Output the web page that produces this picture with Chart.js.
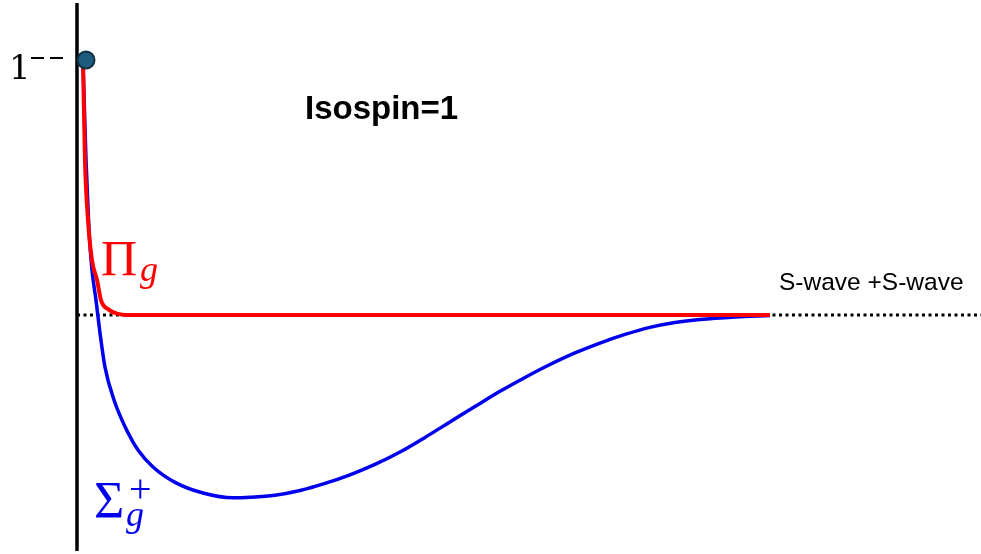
<!DOCTYPE html>
<html>
<head>
<meta charset="utf-8">
<script src="https://cdn.jsdelivr.net/npm/chart.js@4"></script>
<style>
  html, body { margin: 0; padding: 0; background: #fff; }
  #box { width: 981px; height: 554px; }
</style>
</head>
<body>
<div id="box"><canvas id="grafico" width="981" height="554"></canvas></div>
<script>
// === Dados (r em unidades arbitrarias, energia relativa ao limiar S-wave + S-wave) ===
const piX = [0.087, 0.115, 0.159, 0.216, 0.289, 0.346, 0.462, 0.592, 0.707, 1.5, 5, 10];
const piY = [1.0, 0.613, 0.375, 0.217, 0.138, 0.059, 0.02, 0.004, 0.0, 0.0, 0.0, 0.0];

const sigmaX = [0.087, 0.13, 0.173, 0.216, 0.274, 0.332, 0.404, 0.534, 0.736, 0.88, 1.097, 1.429, 1.818, 2.251,
  2.496, 2.857, 3.218, 3.579, 3.939, 4.3, 4.661, 5.022, 5.382, 5.743, 6.104, 6.465, 6.825, 7.186, 7.547, 7.908,
  8.268, 8.629, 8.99, 9.495, 10];
const sigmaY = [1.0, 0.613, 0.336, 0.178, 0.059, -0.071, -0.206, -0.336, -0.466, -0.534, -0.601, -0.664, -0.704, -0.723,
  -0.721, -0.713, -0.694, -0.666, -0.632, -0.591, -0.542, -0.484, -0.423, -0.362, -0.302, -0.247, -0.196, -0.15, -0.111, -0.077,
  -0.049, -0.03, -0.018, -0.008, -0.002];

const estadoX = [0.13];
const estadoY = [1.008];

const limiarX = [0, 13.1];
const limiarY = [0, 0];

const eixoX = [0, 0];
const eixoY = [1.233, -0.933];

const pares = (xs, ys) => xs.map((x, i) => ({ x, y: ys[i] }));

// === Textos ===
const rotulos = {
  estado: "1",
  titulo: "Isospin=1",
  limiar: "S-wave +S-wave"
};

const textosPlugin = {
  id: "textos",
  afterDatasetsDraw(chart) {
    const ctx = chart.ctx;
    ctx.save();
    ctx.textBaseline = "alphabetic";

    // 1^{--}
    ctx.fillStyle = "#000";
    ctx.font = "34px 'DejaVu Serif', serif";
    ctx.fillText(rotulos.estado, 9, 79);
    ctx.fillRect(31, 57, 13, 2);
    ctx.fillRect(50, 57, 13, 2);

    // Isospin=1
    ctx.font = "bold 33px 'Liberation Sans', Arial, sans-serif";
    ctx.fillText(rotulos.titulo, 305, 119);

    // S-wave +S-wave
    ctx.font = "24.5px 'Liberation Sans', Arial, sans-serif";
    ctx.fillText(rotulos.limiar, 779, 290);

    // Pi_g
    ctx.fillStyle = "#ff0000";
    ctx.font = "50px 'Liberation Serif', serif";
    ctx.fillText("\u03A0", 101, 275);
    ctx.font = "italic 36px 'Liberation Serif', serif";
    ctx.fillText("g", 140, 281);

    // Sigma_g^+
    ctx.fillStyle = "#0000ee";
    ctx.font = "52px 'Liberation Serif', serif";
    ctx.fillText("\u03A3", 94, 518);
    ctx.font = "italic 36px 'Liberation Serif', serif";
    ctx.fillText("g", 126, 526);
    ctx.font = "40px 'Liberation Serif', serif";
    ctx.fillText("+", 129, 502);

    ctx.restore();
  }
};

new Chart(document.getElementById("grafico"), {
  type: "line",
  data: {
    datasets: [
      {
        label: "estado",
        data: pares(estadoX, estadoY),
        showLine: false,
        pointRadius: 8.5,
        pointBackgroundColor: "#1d5c7e",
        pointBorderColor: "#0f2f40",
        pointBorderWidth: 2,
        order: 0
      },
      {
        label: "Pi_g",
        data: pares(piX, piY),
        borderColor: "#ff0000",
        borderWidth: 4,
        pointRadius: 0,
        cubicInterpolationMode: "monotone",
        order: 1
      },
      {
        label: "Sigma_g+",
        data: pares(sigmaX, sigmaY),
        borderColor: "#0000ee",
        borderWidth: 3.5,
        pointRadius: 0,
        cubicInterpolationMode: "monotone",
        order: 2
      },
      {
        label: "limiar",
        data: pares(limiarX, limiarY),
        borderColor: "#000",
        borderWidth: 3,
        borderDash: [3, 3.5],
        pointRadius: 0,
        order: 3
      },
      {
        label: "eixo",
        data: pares(eixoX, eixoY),
        borderColor: "#000",
        borderWidth: 3.5,
        pointRadius: 0,
        order: 4
      }
    ]
  },
  options: {
    responsive: false,
    animation: false,
    layout: { padding: 0, autoPadding: false },
    plugins: {
      legend: { display: false },
      tooltip: { enabled: false }
    },
    scales: {
      x: { type: "linear", min: -1.111, max: 13.045, display: false },
      y: { type: "linear", min: -0.945, max: 1.245, display: false }
    }
  },
  plugins: [textosPlugin]
});
</script>
</body>
</html>
